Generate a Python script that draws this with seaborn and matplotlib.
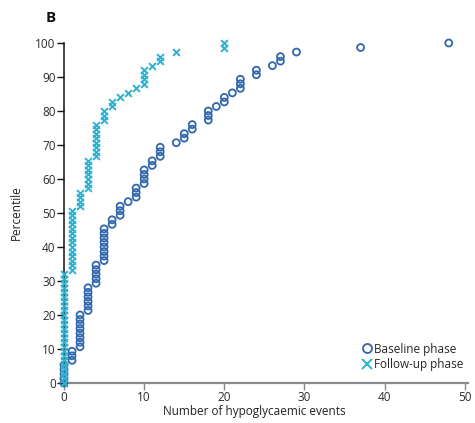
import numpy as np
import pandas as pd
import matplotlib
matplotlib.use("Agg")
import matplotlib.pyplot as plt
from matplotlib.lines import Line2D
import seaborn as sns

# Events per patient (distinct values) and how many patients had that value
baseline_events = [0, 1, 2, 3, 4, 5, 6, 7, 8, 9, 10, 11, 12, 14, 15, 16, 18, 19, 20, 21, 22, 24, 26, 27, 29, 37, 48]
baseline_counts = [5, 3, 8, 6, 5, 8, 2, 3, 1, 3, 4, 2, 3, 1, 2, 2, 3, 1, 2, 1, 3, 2, 1, 2, 1, 1, 1]
followup_events = [0, 1, 2, 3, 4, 5, 6, 7, 8, 9, 10, 11, 12, 14, 20]
followup_counts = [25, 14, 4, 7, 8, 3, 2, 1, 1, 1, 4, 1, 2, 1, 2]

x_ticks = [0, 10, 20, 30, 40, 50]
y_ticks = [0, 10, 20, 30, 40, 50, 60, 70, 80, 90, 100]

BLUE = "#2f66ad"
CYAN = "#2bb2d2"


def expand(events, counts, label):
    vals = np.repeat(events, counts)
    pct = np.arange(len(vals)) / (len(vals) - 1) * 100
    return pd.DataFrame({"events": vals, "percentile": pct, "phase": label})


base = expand(baseline_events, baseline_counts, "Baseline phase")
foll = expand(followup_events, followup_counts, "Follow-up phase")

sns.set_theme(style="white")
plt.rcParams["font.family"] = ["Open Sans", "DejaVu Sans"]

fig = plt.figure(figsize=(4.75, 4.23), dpi=100)
ax = fig.add_axes([64 / 475, 1 - 383 / 423, (468 - 64) / 475, (383 - 43) / 423])

sns.scatterplot(data=base, x="events", y="percentile", marker="o", s=25,
                color=BLUE, ax=ax, legend=False, clip_on=False, zorder=3)
coll = ax.collections[-1]
coll.set_facecolor("none")
coll.set_edgecolor(BLUE)
coll.set_linewidth(1.3)

sns.scatterplot(data=foll, x="events", y="percentile", marker="x", s=24,
                color=CYAN, linewidth=1.4, ax=ax, legend=False, clip_on=False, zorder=4)

ax.set_xlim(0, 50.4)
ax.set_ylim(0, 100)
ax.set_xticks(x_ticks)
ax.set_yticks(y_ticks)
ax.set_xticklabels([str(t) for t in x_ticks], fontsize=8.5, color="#2a2a2a")
ax.set_yticklabels([str(t) for t in y_ticks], fontsize=8.5, color="#2a2a2a")

for s in ["top", "right"]:
    ax.spines[s].set_visible(False)
ax.spines["left"].set_color("#111111")
ax.spines["left"].set_linewidth(1.1)
ax.spines["bottom"].set_color("#8a8a8a")
ax.spines["bottom"].set_linewidth(1.6)
ax.tick_params(axis="y", which="major", left=True, length=5, width=1.0, color="#111111", pad=1)
ax.tick_params(axis="x", which="major", bottom=True, length=5, width=1.0, color="#8a8a8a", pad=1)

ax.set_xlabel("Number of hypoglycaemic events", fontsize=8.5, color="#222222", labelpad=4)
ax.set_ylabel("Percentile", fontsize=8.5, color="#222222", labelpad=9)
ax.xaxis.set_label_coords(0.47, -0.065)

fig.text(46 / 475, 1 - 18 / 423, "B", fontsize=11, fontweight="bold", color="#111111",
         ha="left", va="center")

handles = [
    Line2D([], [], marker="o", linestyle="none", markerfacecolor="none",
           markeredgecolor=BLUE, markeredgewidth=1.3, markersize=6.5),
    Line2D([], [], marker="x", linestyle="none", color=CYAN,
           markeredgewidth=1.4, markersize=6.5),
]
ax.legend(handles, ["Baseline phase", "Follow-up phase"], loc="lower right",
          bbox_to_anchor=(1.0, 0.02), frameon=False, fontsize=8.5,
          handletextpad=0.1, handlelength=1.0, labelspacing=0.25, borderaxespad=0)

fig.savefig("out.png", dpi=100, facecolor="white")
